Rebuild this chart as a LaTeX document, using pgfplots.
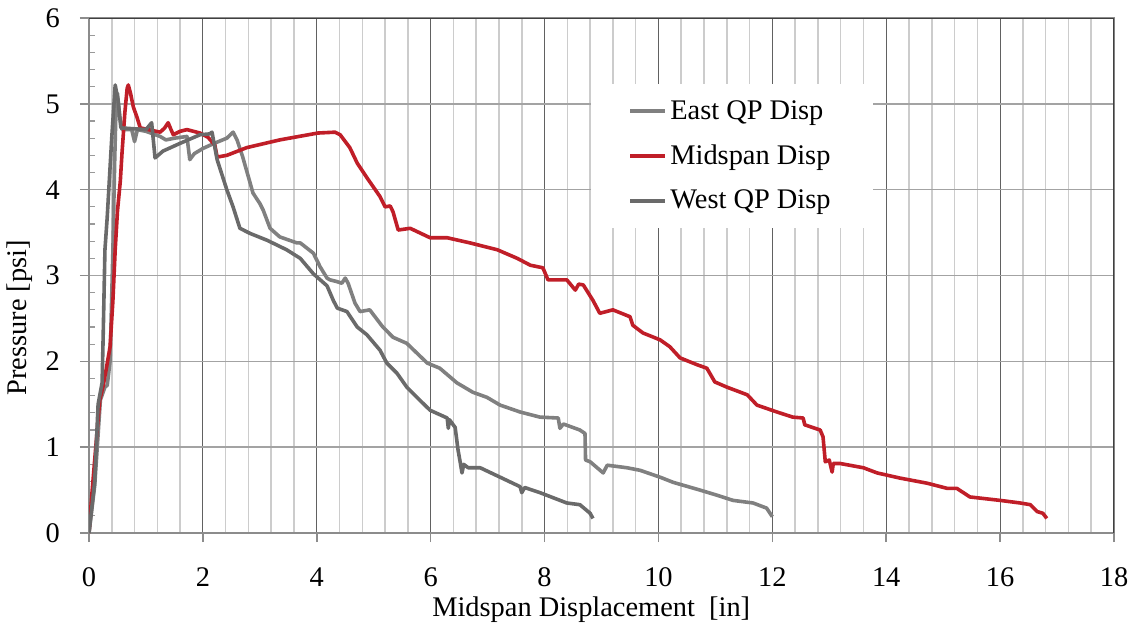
\documentclass[border=0pt]{standalone}
\usepackage{fontspec}
\setmainfont{Liberation Serif}
\usepackage{pgfplots}
\pgfplotsset{compat=1.18}
\definecolor{eastgray}{HTML}{808080}
\definecolor{westgray}{HTML}{6A6A6A}
\definecolor{midred}{HTML}{C01E28}
\newcommand{\ff}{\fontsize{14.2}{16}\selectfont}
\begin{document}
\begin{tikzpicture}
\path[use as bounding box] (-44.5pt,-47.5pt) rectangle (522.5pt,266.5pt);
\begin{axis}[
  scale only axis, width=512.5pt, height=257.5pt,
  xmin=0, xmax=18, ymin=0, ymax=6,
  xtick={0,2,...,18}, ytick={0,1,...,6},
  minor x tick num=4, minor y tick num=4,
  xmajorgrids=true, xminorgrids=true, ymajorgrids=true, yminorgrids=false,
  major x grid style={draw=black!62, line width=0.55pt},
  minor x grid style={draw=black!20, line width=0.8pt},
  major y grid style={draw=black!36, line width=0.8pt},
  axis line style={draw=black!45, line width=0.8pt},
  tick pos=left, tick align=outside,
  major tick length=4.5pt, minor tick length=3pt,
  major tick style={draw=black!45, line width=0.8pt},
  minor x tick style={draw=none},
  minor y tick style={draw=black!40, line width=0.6pt, xshift=3pt},
  /pgf/number format/assume math mode=true,
  ticklabel style={font=\ff},
  yticklabel style={xshift=-6.5pt},
  xticklabel style={yshift=-9.5pt},
  xlabel={Midspan Displacement\ \ [in]},
  ylabel={Pressure [psi]},
  label style={font=\ff},
  xlabel style={at={(axis description cs:0.49,-0.1495)}, anchor=center},
  ylabel style={at={(axis description cs:-0.0673,0.418)}, anchor=center, rotate=0},
  legend style={at={(rel axis cs:0.489,0.872)}, anchor=north west, draw=none, fill=white,
    inner xsep=19pt, inner ysep=6pt, row sep=7.3pt, font=\ff},
  legend cell align=left,
  every axis plot/.append style={line width=1.8pt, line join=round},
]
\addplot[eastgray] coordinates {
(0,0) (0.1,0.55) (0.2,1.55) (0.28,1.7) (0.32,1.72) (0.37,2.0) (0.42,3.3) (0.45,4.3)
(0.48,5.1) (0.5,5.12) (0.54,4.85) (0.58,4.70) (0.75,4.70) (0.8,4.56) (0.85,4.70)
(1.0,4.68) (1.25,4.62) (1.35,4.58) (1.5,4.60) (1.72,4.62) (1.77,4.35) (1.85,4.42)
(2.0,4.48) (2.2,4.54) (2.42,4.60) (2.53,4.67) (2.6,4.58) (2.7,4.38) (2.88,3.96)
(3.0,3.84) (3.06,3.76) (3.18,3.55) (3.35,3.45) (3.65,3.38) (3.71,3.38) (3.94,3.26)
(4.06,3.10) (4.18,2.97) (4.23,2.95) (4.35,2.93) (4.44,2.91) (4.5,2.97) (4.55,2.91)
(4.67,2.68) (4.76,2.58) (4.93,2.60) (5.16,2.40) (5.34,2.28) (5.58,2.21) (5.94,1.98)
(6.16,1.92) (6.46,1.75) (6.74,1.64) (6.99,1.58) (7.22,1.49) (7.57,1.41) (7.92,1.35)
(8.24,1.34) (8.27,1.22) (8.33,1.27) (8.62,1.20) (8.71,1.16) (8.72,0.85) (8.8,0.83)
(9.03,0.70) (9.1,0.79) (9.45,0.76) (9.68,0.73) (10.03,0.65) (10.26,0.59) (10.73,0.50)
(11.03,0.44) (11.31,0.38) (11.66,0.35) (11.9,0.29) (12.0,0.19)
};
\addlegendentry{East QP Disp}
\addplot[midred] coordinates {
(0,0) (0.05,0.45) (0.1,0.85) (0.15,1.25) (0.19,1.55) (0.25,1.72) (0.3,1.9) (0.37,2.17)
(0.42,2.71) (0.46,3.30) (0.5,3.75) (0.55,4.1) (0.58,4.43) (0.63,4.9) (0.67,5.18)
(0.69,5.22) (0.73,5.12) (0.78,4.96) (0.84,4.85) (0.9,4.72) (1.04,4.70) (1.25,4.67)
(1.33,4.72) (1.39,4.78) (1.44,4.70) (1.48,4.64) (1.6,4.68) (1.72,4.70) (1.95,4.66)
(2.09,4.61) (2.21,4.52) (2.25,4.38) (2.42,4.40) (2.77,4.49) (3.35,4.58) (4.02,4.66)
(4.32,4.67) (4.41,4.64) (4.58,4.49) (4.71,4.31) (4.88,4.14) (5.11,3.92) (5.2,3.80)
(5.29,3.81) (5.34,3.74) (5.43,3.53) (5.64,3.55) (5.99,3.44) (6.29,3.44) (6.69,3.38)
(7.17,3.30) (7.52,3.20) (7.75,3.12) (7.97,3.09) (8.06,2.95) (8.39,2.95) (8.54,2.83)
(8.6,2.9) (8.68,2.89) (8.85,2.71) (8.97,2.56) (9.2,2.60) (9.5,2.52) (9.55,2.42)
(9.73,2.33) (10.03,2.25) (10.2,2.17) (10.38,2.04) (10.68,1.96) (10.85,1.92)
(10.99,1.76) (11.2,1.70) (11.56,1.61) (11.73,1.49) (12.08,1.41) (12.36,1.35)
(12.54,1.34) (12.57,1.26) (12.84,1.20) (12.89,1.12) (12.93,0.83) (13.0,0.85)
(13.05,0.71) (13.07,0.81) (13.19,0.81) (13.6,0.76) (13.84,0.70) (14.24,0.64)
(14.72,0.58) (15.07,0.52) (15.24,0.52) (15.47,0.42) (16.0,0.38) (16.35,0.35)
(16.53,0.33) (16.65,0.25) (16.75,0.23) (16.82,0.17)
};
\addlegendentry{Midspan Disp}
\addplot[westgray] coordinates {
(0,0) (0.05,0.3) (0.1,0.6) (0.16,1.5) (0.23,1.75) (0.25,2.33) (0.28,3.3) (0.32,3.68)
(0.4,4.61) (0.46,5.22) (0.51,5.04) (0.56,4.72) (1.0,4.70) (1.1,4.78) (1.16,4.37)
(1.3,4.45) (1.6,4.54) (1.95,4.64) (2.12,4.65) (2.16,4.67) (2.25,4.35) (2.42,4.00)
(2.53,3.80) (2.65,3.55) (2.83,3.49) (3.13,3.41) (3.47,3.30) (3.71,3.20) (3.94,3.02)
(4.06,2.95) (4.18,2.88) (4.29,2.71) (4.36,2.62) (4.53,2.58) (4.71,2.40) (4.88,2.31)
(5.11,2.13) (5.23,1.98) (5.41,1.86) (5.58,1.70) (5.76,1.58) (5.99,1.43) (6.29,1.34)
(6.31,1.22) (6.33,1.32) (6.43,1.23) (6.48,0.97) (6.52,0.82) (6.55,0.70) (6.58,0.80)
(6.66,0.76) (6.87,0.76) (7.22,0.65) (7.57,0.54) (7.6,0.47) (7.65,0.53) (7.92,0.47)
(8.39,0.35) (8.62,0.33) (8.8,0.23) (8.85,0.17)
};
\addlegendentry{West QP Disp}
\draw[black!75, line width=1pt] (rel axis cs:0,1) -- (rel axis cs:1,1) -- (rel axis cs:1,0);
\end{axis}
\end{tikzpicture}
\end{document}
